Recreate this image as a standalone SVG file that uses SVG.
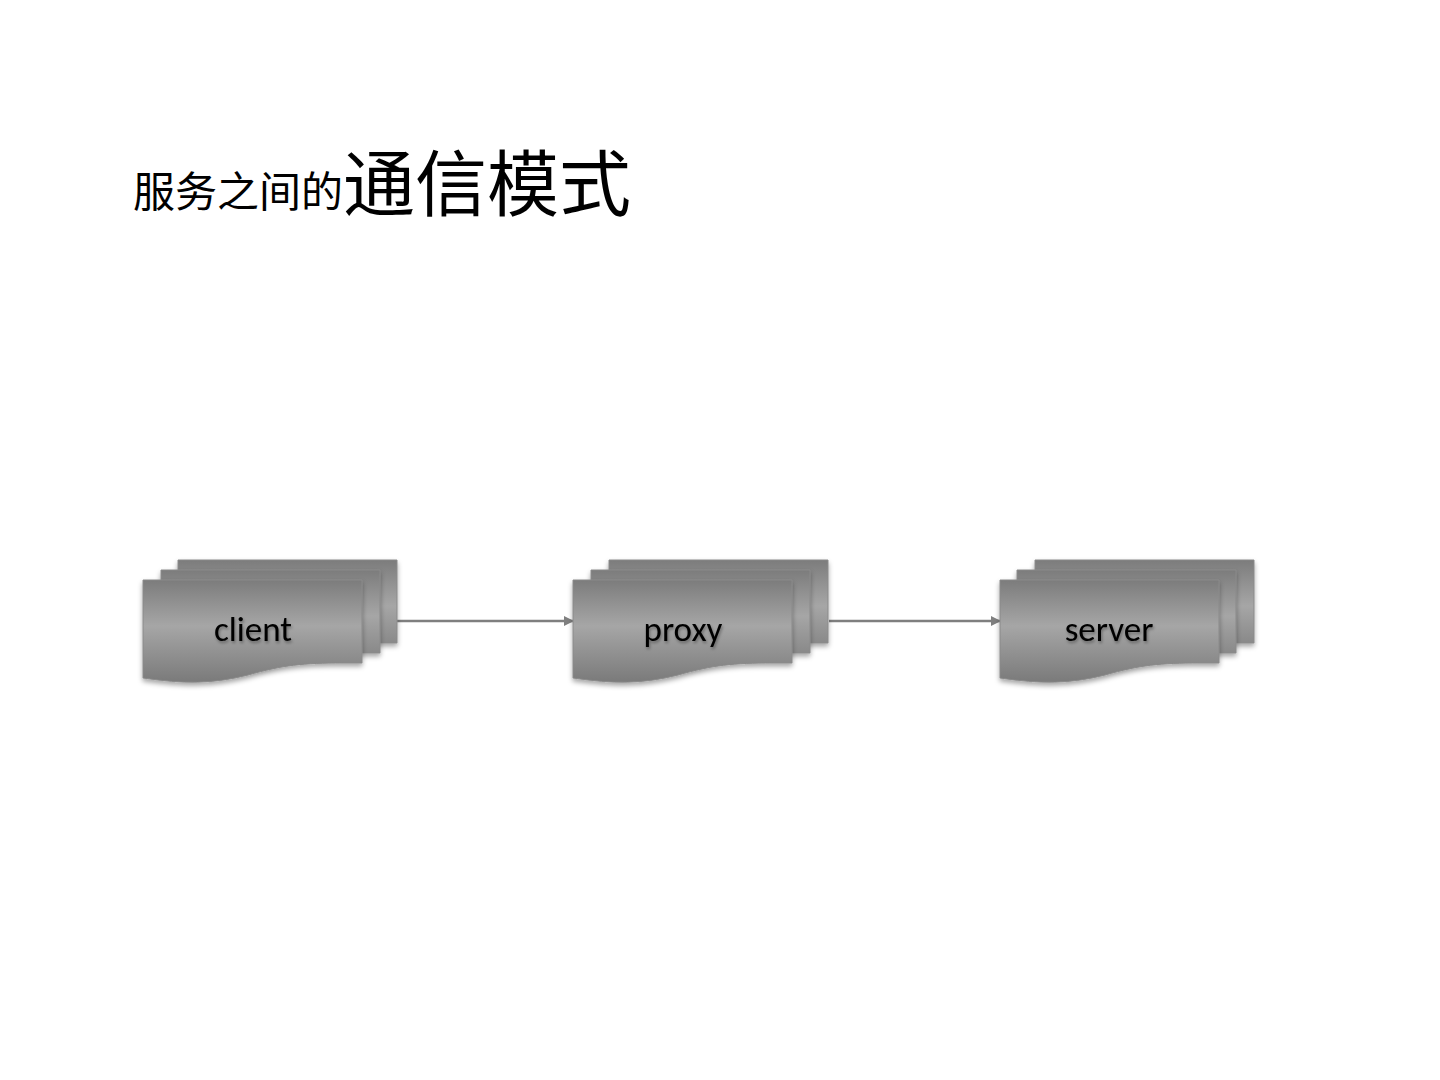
<svg xmlns="http://www.w3.org/2000/svg" xmlns:xlink="http://www.w3.org/1999/xlink" width="1440" height="1080" viewBox="0 0 1440 1080">
<defs>
<linearGradient id="g" x1="0" y1="0" x2="0" y2="1">
<stop offset="0" stop-color="#7c7c7c"/>
<stop offset="0.45" stop-color="#a6a6a6"/>
<stop offset="1" stop-color="#7a7a7a"/>
</linearGradient>
<filter id="sh" x="-10%" y="-10%" width="120%" height="130%">
<feDropShadow dx="0" dy="3" stdDeviation="2.5" flood-color="#000" flood-opacity="0.35"/>
</filter>
<filter id="tsh" x="-10%" y="-20%" width="120%" height="150%">
<feDropShadow dx="1" dy="2" stdDeviation="1.5" flood-color="#000" flood-opacity="0.35"/>
</filter>
<path id="doc" d="M0,0 H219 V83 L200,83 C160,83 140,85 105,95 C70,104 40,104 0,98 Z"/>
<marker id="arr" viewBox="0 0 10 10" refX="9" refY="5" markerWidth="4" markerHeight="4" orient="auto">
<path d="M0,0 L10,5 L0,10 Z" fill="#7f7f7f"/>
</marker>
</defs>
<style>
.d{fill:url(#g);stroke:#8a8a8a;stroke-width:1;filter:url(#sh)}
.lbl{font-family:Calibri,Carlito,"Open Sans","Liberation Sans",sans-serif;font-size:35px;fill:#000;text-anchor:middle;filter:url(#tsh)}
.cn{stroke:#7f7f7f;stroke-width:2.5;fill:none;marker-end:url(#arr)}
</style>
<rect width="1440" height="1080" fill="#fff"/>
<text x="133" y="207" font-family="'Noto Sans CJK SC','Noto Sans CJK JP',sans-serif" fill="#000"><tspan font-size="42">服务之间的</tspan><tspan font-size="72" dy="3">通信模式</tspan></text>
<g id="connectors">
<line class="cn" x1="397" y1="621" x2="573" y2="621"/>
<line class="cn" x1="829" y1="621" x2="1000" y2="621"/>
</g>
<g id="client">
<use href="#doc" class="d" x="178" y="560"/>
<use href="#doc" class="d" x="161" y="570"/>
<use href="#doc" class="d" x="143" y="580"/>
<text class="lbl" x="253" y="641">client</text>
</g>
<g id="proxy">
<use href="#doc" class="d" x="609" y="560"/>
<use href="#doc" class="d" x="591" y="570"/>
<use href="#doc" class="d" x="573" y="580"/>
<text class="lbl" x="683" y="641">proxy</text>
</g>
<g id="server">
<use href="#doc" class="d" x="1035" y="560"/>
<use href="#doc" class="d" x="1017" y="570"/>
<use href="#doc" class="d" x="1000" y="580"/>
<text class="lbl" x="1109" y="641">server</text>
</g>
</svg>
